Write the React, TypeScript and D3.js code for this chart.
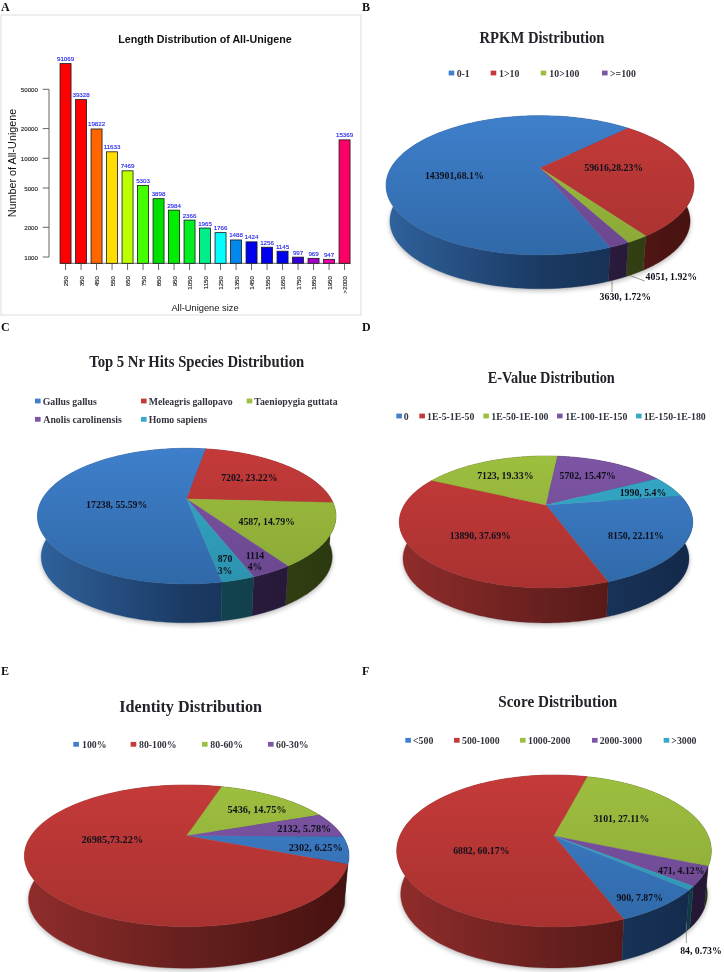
import React from "react";
import * as d3 from "d3";

// ---------- data ----------
const lengthCategories = ["250","350","450","550","650","750","850","950","1050","1150","1250","1350","1450","1550","1650","1750","1850","1950",">2000"];
const lengthCounts = [91069,39328,19822,11633,7469,5303,3898,2984,2366,1965,1766,1488,1424,1256,1145,997,969,947,15369];
const lengthColors = ["#ff0000","#ff0000","#ff6600","#ffdd00","#bbff00","#44ff00","#00e000","#00ee00","#00ee22","#00ee88","#00ffff","#0088ee","#0000ee","#0000ee","#0000ee","#3300dd","#aa00cc","#ee00aa","#ff0066"];
const lengthTicks = [1000,2000,5000,10000,20000,50000];

const rpkmValues = [143901,59616,4051,3630];
const rpkmLegend = ["0-1","1>10","10>100",">=100"];
const rpkmLabels = ["143901,68.1%","59616,28.23%","4051, 1.92%","3630, 1.72%"];

const nrValues = [17238,7202,4587,1114,870];
const nrLegend = ["Gallus gallus","Meleagris gallopavo","Taeniopygia guttata","Anolis carolinensis","Homo sapiens"];
const nrLabels = ["17238, 55.59%","7202, 23.22%","4587, 14.79%","1114|4%","870|3%"];

const evalueValues = [8150,13890,7123,5702,1990];
const evalueLegend = ["0","1E-5-1E-50","1E-50-1E-100","1E-100-1E-150","1E-150-1E-180"];
const evalueLabels = ["8150, 22.11%","13890, 37.69%","7123, 19.33%","5702, 15.47%","1990, 5.4%"];

const identityValues = [2302,26985,5436,2132];
const identityLegend = ["100%","80-100%","80-60%","60-30%"];
const identityLabels = ["2302, 6.25%","26985,73.22%","5436, 14.75%","2132, 5.78%"];

const scoreValues = [900,6882,3101,471,84];
const scoreLegend = ["<500","500-1000","1000-2000","2000-3000",">3000"];
const scoreLabels = ["900, 7.87%","6882, 60.17%","3101, 27.11%","471, 4.12%","84, 0.73%"];

// ---------- styles ----------
const topColors = [["#3f7fcb","#2f69a8"],["#c43a39","#a83230"],["#9dbf3f","#8aa836"],["#7d55a5","#6b478f"],["#35a9c8","#2c93ae"]];
const wallColors = [["#2f619b","#1b3a63","#13294a"],["#8f2c2b","#66201e","#461210"],["#5a6e25","#3c4a18","#2c380f"],["#46305f","#2e1f42","#241634"],["#1f6678","#144652","#0e3a46"]];
const SERIF = "'Liberation Serif','Times New Roman',serif";
const SANS = "'Liberation Sans',Arial,sans-serif";

type PieCfg = {
  id: string; values: number[]; startDeg: number;
  cx: number; apexY: number; rx: number; up: number; down: number; depth: number; inset: number;
};

function pieGeom(c: PieCfg) {
  const ratio = c.down / c.up;
  const k = (ratio - 1) / (ratio + 1);
  const B = c.up * (1 + k);
  const A = c.rx * Math.sqrt(1 - k * k);
  const project = (a: number): [number, number] => {
    const u = Math.sin(a), v = -Math.cos(a), w = 1 - k * v;
    return [c.cx + (A * u) / w, c.apexY + (B * v) / w];
  };
  const lower = (p: [number, number]): [number, number] => [
    c.cx + c.inset * (p[0] - c.cx),
    c.apexY + c.depth + c.inset * (p[1] - c.apexY),
  ];
  return { project, lower };
}

function Pie3D({ c }: { c: PieCfg }) {
  const { project, lower } = pieGeom(c);
  const start = (c.startDeg * Math.PI) / 180;
  const arcs = d3.pie<number>().sort(null).startAngle(start).endAngle(start + 2 * Math.PI)(c.values);
  const line = d3.line();
  const sampled = arcs.map((a) => d3.range(0, 121).map((i) => a.startAngle + ((a.endAngle - a.startAngle) * i) / 120));
  const order = arcs.map((_, i) => i).sort((i, j) => {
    const mi = (arcs[i].startAngle + arcs[i].endAngle) / 2;
    const mj = (arcs[j].startAngle + arcs[j].endAngle) / 2;
    return -Math.cos(mi) - -Math.cos(mj);
  });
  const allBottom = d3.range(0, 181).map((i) => lower(project((i * Math.PI) / 90)));
  const b = d3.extent(allBottom, (p) => p[0]) as [number, number];
  return (
    <g>
      <defs>
        {wallColors.map((w, i) => (
          <linearGradient key={i} id={`${c.id}w${i}`} gradientUnits="userSpaceOnUse" x1={b[0]} x2={b[1]} y1={0} y2={0}>
            <stop offset="0" stopColor={w[0]} />
            <stop offset="0.5" stopColor={w[1]} />
            <stop offset="1" stopColor={w[2]} />
          </linearGradient>
        ))}
        {topColors.map((t, i) => (
          <linearGradient key={i} id={`${c.id}t${i}`} gradientUnits="userSpaceOnUse" x1={0} x2={0} y1={c.apexY - c.up} y2={c.apexY + c.down}>
            <stop offset="0" stopColor={t[0]} />
            <stop offset="1" stopColor={t[1]} />
          </linearGradient>
        ))}
      </defs>
      <path d={line(allBottom)! + "Z"} fill="#000" opacity={0.28} filter="url(#softShadow)" transform="translate(0,2)" />
      {order.map((i) => {
        const rim = sampled[i].map(project);
        const wall = [...rim, ...rim.map(lower).reverse()];
        return <path key={i} d={line(wall)! + "Z"} fill={`url(#${c.id}w${i})`} stroke={`url(#${c.id}w${i})`} strokeWidth={0.3} />;
      })}
      {arcs.map((a, i) => {
        const rim = sampled[i].map(project);
        const face: [number, number][] = [[c.cx, c.apexY], ...rim];
        return <path key={i} d={line(face)! + "Z"} fill={`url(#${c.id}t${i})`} stroke={`url(#${c.id}t${i})`} strokeWidth={0.3} />;
      })}
    </g>
  );
}

type Item = { text: string; x: number; y: number };

function Labels({ items, size, color = "#10101c" }: { items: Item[]; size: number; color?: string }) {
  return (
    <g fontFamily={SERIF} fontWeight="bold" fontSize={size} fill={color} textAnchor="middle" dominantBaseline="central">
      {items.map((t, i) => (
        <text key={i} x={t.x} y={t.y}>{t.text}</text>
      ))}
    </g>
  );
}

function Legend({ names, swatch, text, y }: { names: string[]; swatch: number[]; text: number[]; y: number[] }) {
  return (
    <g fontFamily={SERIF} fontWeight="bold" fontSize={9.8} fill="#33333f">
      {names.map((n, i) => (
        <g key={n}>
          <rect x={swatch[i]} y={y[i] - 2.4} width={5.6} height={4.8} fill={topColors[i][0]} />
          <text x={text[i]} y={y[i]} dominantBaseline="central">{n}</text>
        </g>
      ))}
    </g>
  );
}

function Title({ text, x, y, width }: { text: string; x: number; y: number; width: number }) {
  return (
    <text x={x} y={y} textAnchor="middle" dominantBaseline="central" fontFamily={SERIF} fontWeight="bold" fontSize={16} fill="#22222a"
      textLength={width} lengthAdjust="spacingAndGlyphs">{text}</text>
  );
}

function BarPanel() {
  const y = d3.scaleLog().domain([1000, 10000]).range([257, 158.3]);
  const x = d3.scaleBand<string>().domain(lengthCategories).range([57.8, 352.3]).paddingInner(0.29).paddingOuter(0.145);
  const baseY = 263.3;
  return (
    <g>
      <rect x={1} y={15} width={360} height={300} fill="#fff" stroke="#dddddd" strokeWidth={1} />
      <text x={205} y={39} textAnchor="middle" dominantBaseline="central" fontFamily={SANS} fontWeight="bold" fontSize={10.7} fill="#111">Length Distribution of All-Unigene</text>
      <line x1={49} x2={49} y1={y(50000)} y2={y(1000)} stroke="#555" strokeWidth={0.9} />
      {lengthTicks.map((t) => (
        <g key={t}>
          <line x1={42.7} x2={49} y1={y(t)} y2={y(t)} stroke="#555" strokeWidth={0.9} />
          <text x={38} y={y(t)} textAnchor="end" dominantBaseline="central" fontFamily={SANS} fontSize={6.2} fill="#222" stroke="#222" strokeWidth={0.12}>{t}</text>
        </g>
      ))}
      <text transform="translate(11.5,163) rotate(-90)" textAnchor="middle" dominantBaseline="central" fontFamily={SANS} fontSize={10.8} fill="#111">Number of All-Unigene</text>
      <line x1={60} x2={350.5} y1={baseY} y2={baseY} stroke="#444" strokeWidth={0.8} />
      {lengthCategories.map((cat, i) => {
        const bx = x(cat)!, w = x.bandwidth(), cxb = bx + w / 2, top = y(lengthCounts[i]);
        return (
          <g key={cat}>
            <rect x={bx} y={top} width={w} height={baseY - top} fill={lengthColors[i]} stroke="#1a1a1a" strokeWidth={0.8} />
            <text x={cxb} y={top - 5} textAnchor="middle" dominantBaseline="central" fontFamily={SANS} fontSize={6.2} fill="#2020ee" stroke="#2020ee" strokeWidth={0.12}>{lengthCounts[i]}</text>
            <line x1={cxb} x2={cxb} y1={baseY} y2={270} stroke="#444" strokeWidth={0.8} />
            <text transform={`translate(${cxb},276) rotate(-90)`} textAnchor="end" dominantBaseline="central" fontFamily={SANS} fontSize={6.2} fill="#222" stroke="#222" strokeWidth={0.12}>{cat}</text>
          </g>
        );
      })}
      <text x={205} y={308} textAnchor="middle" dominantBaseline="central" fontFamily={SANS} fontSize={9.3} fill="#111">All-Unigene size</text>
    </g>
  );
}

const pieB: PieCfg = { id: "b", values: rpkmValues, startDeg: -201.2, cx: 540, apexY: 168, rx: 154, up: 52.3, down: 87, depth: 36, inset: 0.975 };
const pieC: PieCfg = { id: "c", values: nrValues, startDeg: 169.4, cx: 186.7, apexY: 499, rx: 149.3, up: 50.7, down: 85, depth: 41, inset: 0.975 };
const pieD: PieCfg = { id: "d", values: evalueValues, startDeg: 81, cx: 546, apexY: 505, rx: 146.7, up: 49, down: 83, depth: 37, inset: 0.975 };
const pieE: PieCfg = { id: "e", values: identityValues, startDeg: 90.5, cx: 186.7, apexY: 835.7, rx: 162.3, up: 50.7, down: 91, depth: 43.9, inset: 0.975 };
const pieF: PieCfg = { id: "f", values: scoreValues, startDeg: 130, cx: 554, apexY: 836, rx: 157.3, up: 61, down: 91, depth: 43.3, inset: 0.975 };

const letters: Item[] = [
  { text: "A", x: 1, y: 11 }, { text: "B", x: 362, y: 11 },
  { text: "C", x: 1, y: 331 }, { text: "D", x: 362, y: 331 },
  { text: "E", x: 1, y: 675 }, { text: "F", x: 362, y: 675 },
];

export default function App() {
  const zx = (v: number, ox: number) => ox + v / 3;
  return (
    <svg width={724} height={972} viewBox="0 0 724 972" style={{ position: "absolute", left: 0, top: 0, background: "#fff", filter: "blur(0.35px)" }}>
      <defs>
        <filter id="softShadow" x="-10%" y="-10%" width="120%" height="130%">
          <feGaussianBlur stdDeviation="2.5" />
        </filter>
      </defs>
      <BarPanel />
      <g fontFamily={SERIF} fontWeight="bold" fontSize={12} fill="#111">
        {letters.map((l) => (<text key={l.text} x={l.x} y={l.y}>{l.text}</text>))}
      </g>

      {/* B */}
      <Title text="RPKM Distribution" x={542} y={37} width={125} />
      <Legend names={rpkmLegend} y={[73, 73, 73, 73]}
        swatch={[260, 386, 536, 720].map((v) => zx(v, 362))} text={[284, 411, 562, 744].map((v) => zx(v, 362))} />
      <Pie3D c={pieB} />
      <line x1={zx(800, 362)} y1={275} x2={zx(848, 362)} y2={281} stroke="#555" strokeWidth={0.6} />
      <line x1={zx(750, 362)} y1={280} x2={zx(750, 362)} y2={292} stroke="#555" strokeWidth={0.6} />
      <Labels size={9.8} items={[
        { text: rpkmLabels[0], x: 454.3, y: 175.7 }, { text: rpkmLabels[1], x: 613.7, y: 167.3 },
        { text: rpkmLabels[2], x: 671.3, y: 276.7 }, { text: rpkmLabels[3], x: 625.3, y: 296.7 },
      ]} />

      {/* C */}
      <Title text="Top 5 Nr Hits Species Distribution" x={196.7} y={361.7} width={215} />
      <Legend names={nrLegend} y={[401, 401, 401, 419.3, 419.3]}
        swatch={[105, 423, 740, 105, 423].map((v) => zx(v, 0))} text={[128, 446, 763, 130, 446].map((v) => zx(v, 0))} />
      <Pie3D c={pieC} />
      <Labels size={9.8} items={[
        { text: nrLabels[0], x: 116.7, y: 504 }, { text: nrLabels[1], x: 249.3, y: 477.7 }, { text: nrLabels[2], x: 266.7, y: 521.7 },
        { text: nrLabels[3].split("|")[0], x: 255, y: 555 }, { text: nrLabels[3].split("|")[1], x: 255, y: 566.7 },
        { text: nrLabels[4].split("|")[0], x: 225, y: 558.3 }, { text: nrLabels[4].split("|")[1], x: 225, y: 570.3 },
      ]} />

      {/* D */}
      <Title text="E-Value Distribution" x={551.3} y={377.7} width={127} />
      <Legend names={evalueLegend} y={[416, 416, 416, 416, 416]}
        swatch={[103, 172, 364, 585, 822].map((v) => zx(v, 362))} text={[125, 195, 388, 610, 845].map((v) => zx(v, 362))} />
      <Pie3D c={pieD} />
      <Labels size={9.8} items={[
        { text: evalueLabels[0], x: 636, y: 535 }, { text: evalueLabels[1], x: 480.3, y: 535.7 }, { text: evalueLabels[2], x: 505.3, y: 475 },
        { text: evalueLabels[3], x: 587.7, y: 475 }, { text: evalueLabels[4], x: 643, y: 492.3 },
      ]} />

      {/* E */}
      <Title text="Identity Distribution" x={190.7} y={706.7} width={142.7} />
      <Legend names={identityLegend} y={[744.3, 744.3, 744.3, 744.3]}
        swatch={[220, 392, 606, 804].map((v) => zx(v, 0))} text={[246, 417, 631, 828].map((v) => zx(v, 0))} />
      <Pie3D c={pieE} />
      <Labels size={10.3} items={[
        { text: identityLabels[0], x: 315.7, y: 847 }, { text: identityLabels[1], x: 112.3, y: 839 },
        { text: identityLabels[2], x: 257, y: 809 }, { text: identityLabels[3], x: 304.3, y: 828.3 },
      ]} />

      {/* F */}
      <Title text="Score Distribution" x={557.7} y={701} width={119} />
      <Legend names={scoreLegend} y={[740.3, 740.3, 740.3, 740.3, 740.3]}
        swatch={[130, 276, 474, 690, 905].map((v) => zx(v, 362))} text={[153, 300, 498, 713, 928].map((v) => zx(v, 362))} />
      <Pie3D c={pieF} />
      <line x1={zx(973, 362)} y1={923} x2={zx(973, 362)} y2={943} stroke="#777" strokeWidth={0.7} />
      <Labels size={9.8} items={[
        { text: scoreLabels[0], x: 639.7, y: 897.3 }, { text: scoreLabels[1], x: 481.3, y: 850 }, { text: scoreLabels[2], x: 621.3, y: 818.7 },
        { text: scoreLabels[3], x: 681.3, y: 870.7 }, { text: scoreLabels[4], x: 701, y: 950.3 },
      ]} />
    </svg>
  );
}
